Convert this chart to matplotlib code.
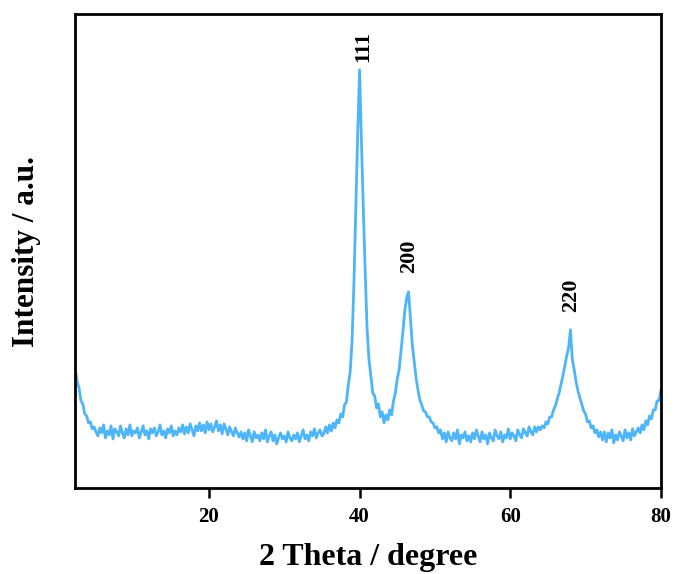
import numpy as np
import matplotlib
matplotlib.use("Agg")
import matplotlib.pyplot as plt

plt.rcParams['font.family'] = ['Liberation Serif', 'DejaVu Serif']
plt.rcParams['font.weight'] = 'bold'

# 2-theta sampling: start, end (degree), step 0.25
two_theta_start = 2.25
two_theta_end = 80.0

# Intensity (a.u.), segment by segment
seg_low_angle = [118, 106, 100, 87, 84, 74, 72, 65, 66, 59, 61, 56]
seg_flat_1 = [52, 60, 55, 63, 50, 57, 53, 62, 49, 59, 56, 52, 62, 55, 50, 59, 53, 63, 52, 57,
              55, 60, 50, 56, 62, 53, 57, 49, 59, 55, 60, 52, 56, 63, 53, 57, 50, 59, 55, 62,
              52, 57, 53, 60]
seg_hump = [56, 63, 54, 61, 55, 64, 58, 52, 62, 57, 65, 57, 63, 55, 66, 58, 64, 56, 61, 67,
            57, 63, 54, 64, 59, 53, 61, 56, 52, 60, 55, 51]
seg_flat_2 = [56, 49, 55, 47, 58, 52, 46, 56, 50, 53, 47, 55, 49, 58, 46, 52, 56, 47, 53, 44,
              50, 55, 49, 52, 46, 56, 50, 47, 53, 49, 55, 46, 52, 58, 49, 53, 47, 56, 52, 59,
              50, 55, 58, 52]
seg_rise = [54, 61, 55, 63, 57, 65, 60, 68, 65, 74, 71, 83]
seg_peak_111 = [86, 103, 116, 147, 205, 280, 355, 418, 345, 278, 215, 158, 128, 111, 95, 92,
                80, 84, 71, 76, 65, 73]
seg_peak_200 = [68, 78, 73, 87, 95, 109, 118, 137, 156, 177, 190, 196, 170, 143, 126, 110, 98,
                88, 83, 77, 76, 71, 71, 66, 65, 60, 61, 55]
seg_flat_3 = [58, 49, 55, 46, 56, 50, 47, 55, 49, 58, 44, 53, 50, 56, 47, 52, 46, 55, 49, 58,
              52, 46, 56, 49, 53, 44, 55, 50, 47, 58, 52, 49, 56, 46, 53, 50, 59, 49, 55, 52,
              47, 58, 53, 50, 59, 55, 52, 61, 56, 53, 61, 56, 61]
seg_peak_220 = [58, 62, 60, 66, 64, 71, 71, 78, 82, 89, 95, 104, 112, 122, 132, 140, 158, 128,
                118, 106, 97, 90, 84, 77, 74, 66, 67, 60, 62, 55, 58, 51, 56]
seg_high_angle = [48, 56, 46, 55, 50, 58, 45, 53, 48, 56, 52, 47, 58, 50, 55, 48, 59, 52, 56, 60,
                  55, 63, 58, 67, 63, 72, 69, 78, 78, 87, 87, 97]

intensity = np.array(seg_low_angle + seg_flat_1 + seg_hump + seg_flat_2 + seg_rise +
                     seg_peak_111 + seg_peak_200 + seg_flat_3 + seg_peak_220 + seg_high_angle,
                     dtype=float)
two_theta = np.linspace(two_theta_start, two_theta_end, len(intensity))

peak_labels = ['111', '200', '220']
peak_positions = [40.0, 46.5, 68.0]

x_ticks = [20, 40, 60, 80]

label_dx = [0.5, 0.1, 0.1]
label_gap = [8, 19, 18]

fig = plt.figure(figsize=(6.75, 5.74), dpi=100)
ax = fig.add_axes([0.111, 0.150, 0.868, 0.826])
ax.plot(two_theta, intensity, color='#4DB5F8', lw=2.0)

for lab, pos, dx, gap in zip(peak_labels, peak_positions, label_dx, label_gap):
    near = np.abs(two_theta - pos) < 0.6
    top = intensity[near].max()
    ax.text(pos + dx, top + gap, lab, rotation=90, ha='center', va='bottom',
            fontsize=16, fontweight='bold')

ax.set_xlim(2.2, 80)
ax.set_ylim(0, 474)
ax.set_xticks(x_ticks)
ax.set_yticks([])
ax.tick_params(axis='x', direction='out', length=7, width=1.8, labelsize=15, pad=7)
for lbl in ax.get_xticklabels():
    lbl.set_fontweight('bold')
for s in ax.spines.values():
    s.set_linewidth(2.0)

fig.text(368 / 675, 8.5 / 574, '2 Theta / degree', ha='center', va='baseline',
         fontsize=23, fontweight='bold')
fig.text(27 / 675, 1 - 252 / 574, 'Intensity / a.u.', ha='center', va='center',
         rotation=90, fontsize=22.5, fontweight='bold')

fig.savefig('out.png', dpi=100)
